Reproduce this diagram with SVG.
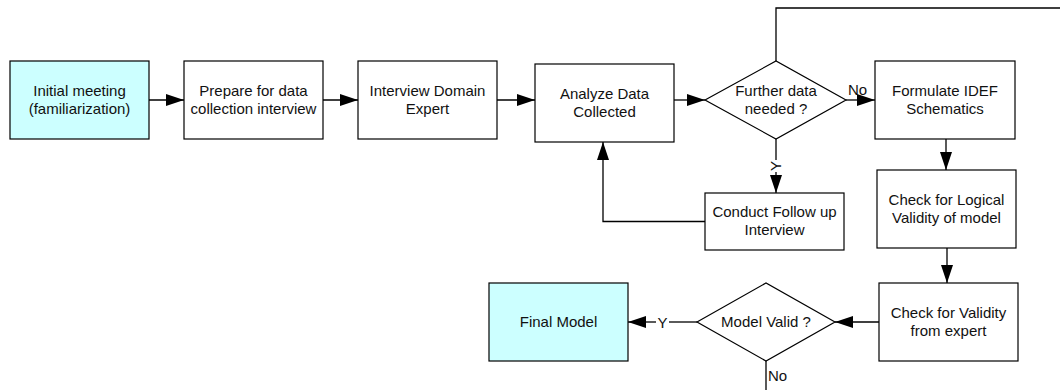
<svg xmlns="http://www.w3.org/2000/svg" width="1060" height="390" viewBox="0 0 1060 390">
<style>
.box{fill:#fff;stroke:#000;stroke-width:1.2}
.start{fill:#ccffff;stroke:#000;stroke-width:1.2}
.t{font-family:"Liberation Sans",Arial,sans-serif;font-size:15px;fill:#111;text-anchor:middle}
.lbl{font-family:"Liberation Sans",Arial,sans-serif;font-size:15px;fill:#111}
.c{fill:none;stroke:#000;stroke-width:1.3}
</style>
<defs>
<marker id="ah" markerUnits="userSpaceOnUse" markerWidth="18" markerHeight="12" refX="18" refY="6" orient="auto">
<path d="M0,0 L18,6 L0,12 z" fill="#000"/>
</marker>
</defs>
<rect width="1060" height="390" fill="#fff"/>
<g id="connectors">
<path class="c" d="M149,100 H184" marker-end="url(#ah)"/>
<path class="c" d="M323,100 H358" marker-end="url(#ah)"/>
<path class="c" d="M497,100 H535" marker-end="url(#ah)"/>
<path class="c" d="M674,100 H705" marker-end="url(#ah)"/>
<path class="c" d="M846,100 H875" marker-end="url(#ah)"/>
<path class="c" d="M776,61 V8 H1060"/>
<path class="c" d="M776,139 V160"/>
<path class="c" d="M776,172 V193" marker-end="url(#ah)"/>
<path class="c" d="M705,221.5 H603 V142" marker-end="url(#ah)"/>
<path class="c" d="M946,139 V170" marker-end="url(#ah)"/>
<path class="c" d="M947,248 V283" marker-end="url(#ah)"/>
<path class="c" d="M879,322 H835" marker-end="url(#ah)"/>
<path class="c" d="M697,322 H669"/>
<path class="c" d="M656,322 H628" marker-end="url(#ah)"/>
<path class="c" d="M766,361 V390"/>
<text class="lbl" x="848" y="95">No</text>
<text class="lbl" text-anchor="middle" transform="translate(781,166) rotate(-90)">Y</text>
<text class="lbl" text-anchor="middle" x="662.5" y="327.5">Y</text>
<text class="lbl" x="768" y="381">No</text>
</g>
<g id="n1">
<rect class="start" x="10" y="61" width="139" height="78"/>
<text class="t" x="79.5" y="96">Initial meeting</text>
<text class="t" x="79.5" y="114">(familiarization)</text>
</g>
<g id="n2">
<rect class="box" x="184" y="61" width="139" height="78"/>
<text class="t" x="253.5" y="96">Prepare for data</text>
<text class="t" x="253.5" y="114">collection interview</text>
</g>
<g id="n3">
<rect class="box" x="358" y="61" width="139" height="78"/>
<text class="t" x="427.5" y="96">Interview Domain</text>
<text class="t" x="427.5" y="114">Expert</text>
</g>
<g id="n4">
<rect class="box" x="535" y="64" width="139" height="78"/>
<text class="t" x="604.5" y="99">Analyze Data</text>
<text class="t" x="604.5" y="117">Collected</text>
</g>
<g id="n5">
<polygon class="box" points="705,100 776,61 846,100 776,139"/>
<text class="t" x="776" y="96">Further data</text>
<text class="t" x="776" y="114">needed ?</text>
</g>
<g id="n6">
<rect class="box" x="875" y="61" width="140" height="78"/>
<text class="t" x="945" y="96">Formulate IDEF</text>
<text class="t" x="945" y="114">Schematics</text>
</g>
<g id="n7">
<rect class="box" x="705" y="193" width="139" height="57"/>
<text class="t" x="774.5" y="217">Conduct Follow up</text>
<text class="t" x="774.5" y="235">Interview</text>
</g>
<g id="n8">
<rect class="box" x="877" y="170" width="139" height="78"/>
<text class="t" x="946.5" y="205">Check for Logical</text>
<text class="t" x="946.5" y="223">Validity of model</text>
</g>
<g id="n9">
<rect class="box" x="879" y="283" width="139" height="78"/>
<text class="t" x="948.5" y="318">Check for Validity</text>
<text class="t" x="948.5" y="336">from expert</text>
</g>
<g id="n10">
<polygon class="box" points="697,322 766,283 835,322 766,361"/>
<text class="t" x="766" y="327">Model Valid ?</text>
</g>
<g id="n11">
<rect class="start" x="489" y="283" width="139" height="78"/>
<text class="t" x="558.5" y="327">Final Model</text>
</g>
</svg>
